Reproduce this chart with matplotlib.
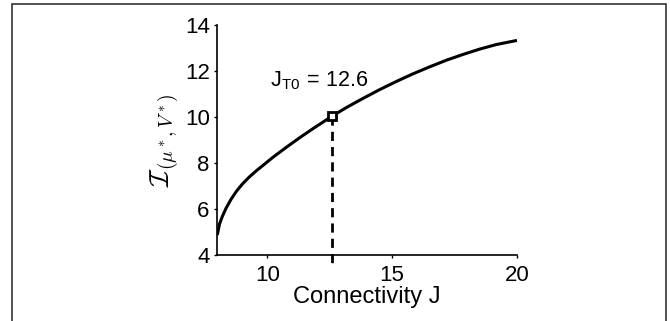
import matplotlib
matplotlib.use("Agg")
import matplotlib.pyplot as plt
from matplotlib.patches import Rectangle

# curve
J = [8.0, 8.09, 8.2, 8.35, 8.55, 8.76, 9.0, 9.27, 9.55, 9.8, 10.23,
     10.76, 11.3, 11.84, 12.6, 13.2, 13.82, 14.5, 15.16, 15.8, 16.5,
     17.2, 17.84, 18.5, 19.17, 20.0]
I = [4.87, 5.35, 5.67, 6.03, 6.42, 6.76, 7.08, 7.38, 7.65, 7.87, 8.25,
     8.68, 9.1, 9.5, 10.04, 10.43, 10.8, 11.19, 11.54, 11.86, 12.18,
     12.48, 12.72, 12.95, 13.15, 13.33]
J_T0 = 12.6
I_T0 = 10.04
XTICKS = [10, 15, 20]
YTICKS = [4, 6, 8, 10, 12, 14]

plt.rcParams.update({"font.family": ["Liberation Sans", "DejaVu Sans"],
                     "mathtext.fontset": "cm", "font.size": 16})

fig = plt.figure(figsize=(6.7, 3.21), dpi=100)
ax = fig.add_axes([0.3243, 0.2056, 0.4473, 0.7165])

ax.plot(J, I, color="black", lw=2.2, solid_capstyle="butt")
ax.plot([J_T0, J_T0], [I_T0, 3.55], color="black", lw=2.0,
        dashes=(3.3, 2.2), clip_on=False)
ax.plot([J_T0], [I_T0], marker="s", ms=6, mfc="white", mec="black",
        mew=2.0, color="black")
ax.text(10.1, 11.35, r"J$_{\mathregular{T0}}$ = 12.6", fontsize=15.5,
        va="baseline", ha="left")

ax.set_xlim(8, 20)
ax.set_ylim(4, 14)
ax.set_xticks(XTICKS)
ax.set_yticks(YTICKS)
ax.tick_params(direction="out", length=2.5, width=1, labelsize=16)
ax.tick_params(axis="x", pad=5)
ax.tick_params(axis="y", pad=3)
for s in ("top", "right"):
    ax.spines[s].set_visible(False)
for s in ("left", "bottom"):
    ax.spines[s].set_linewidth(1.2)
ax.set_xlabel("Connectivity J", fontsize=17, labelpad=0)
ax.set_ylabel(r"$\mathcal{I}_{(\mu^*,V^*)}$", fontsize=20, labelpad=3)

# outer frame around the panel
fig.patches.append(Rectangle((12 / 670, -0.1), 654 / 670, 1.1 - 4 / 321,
                             transform=fig.transFigure, fill=False,
                             edgecolor="#333333", lw=1.2))

fig.savefig("out.png", dpi=100)
